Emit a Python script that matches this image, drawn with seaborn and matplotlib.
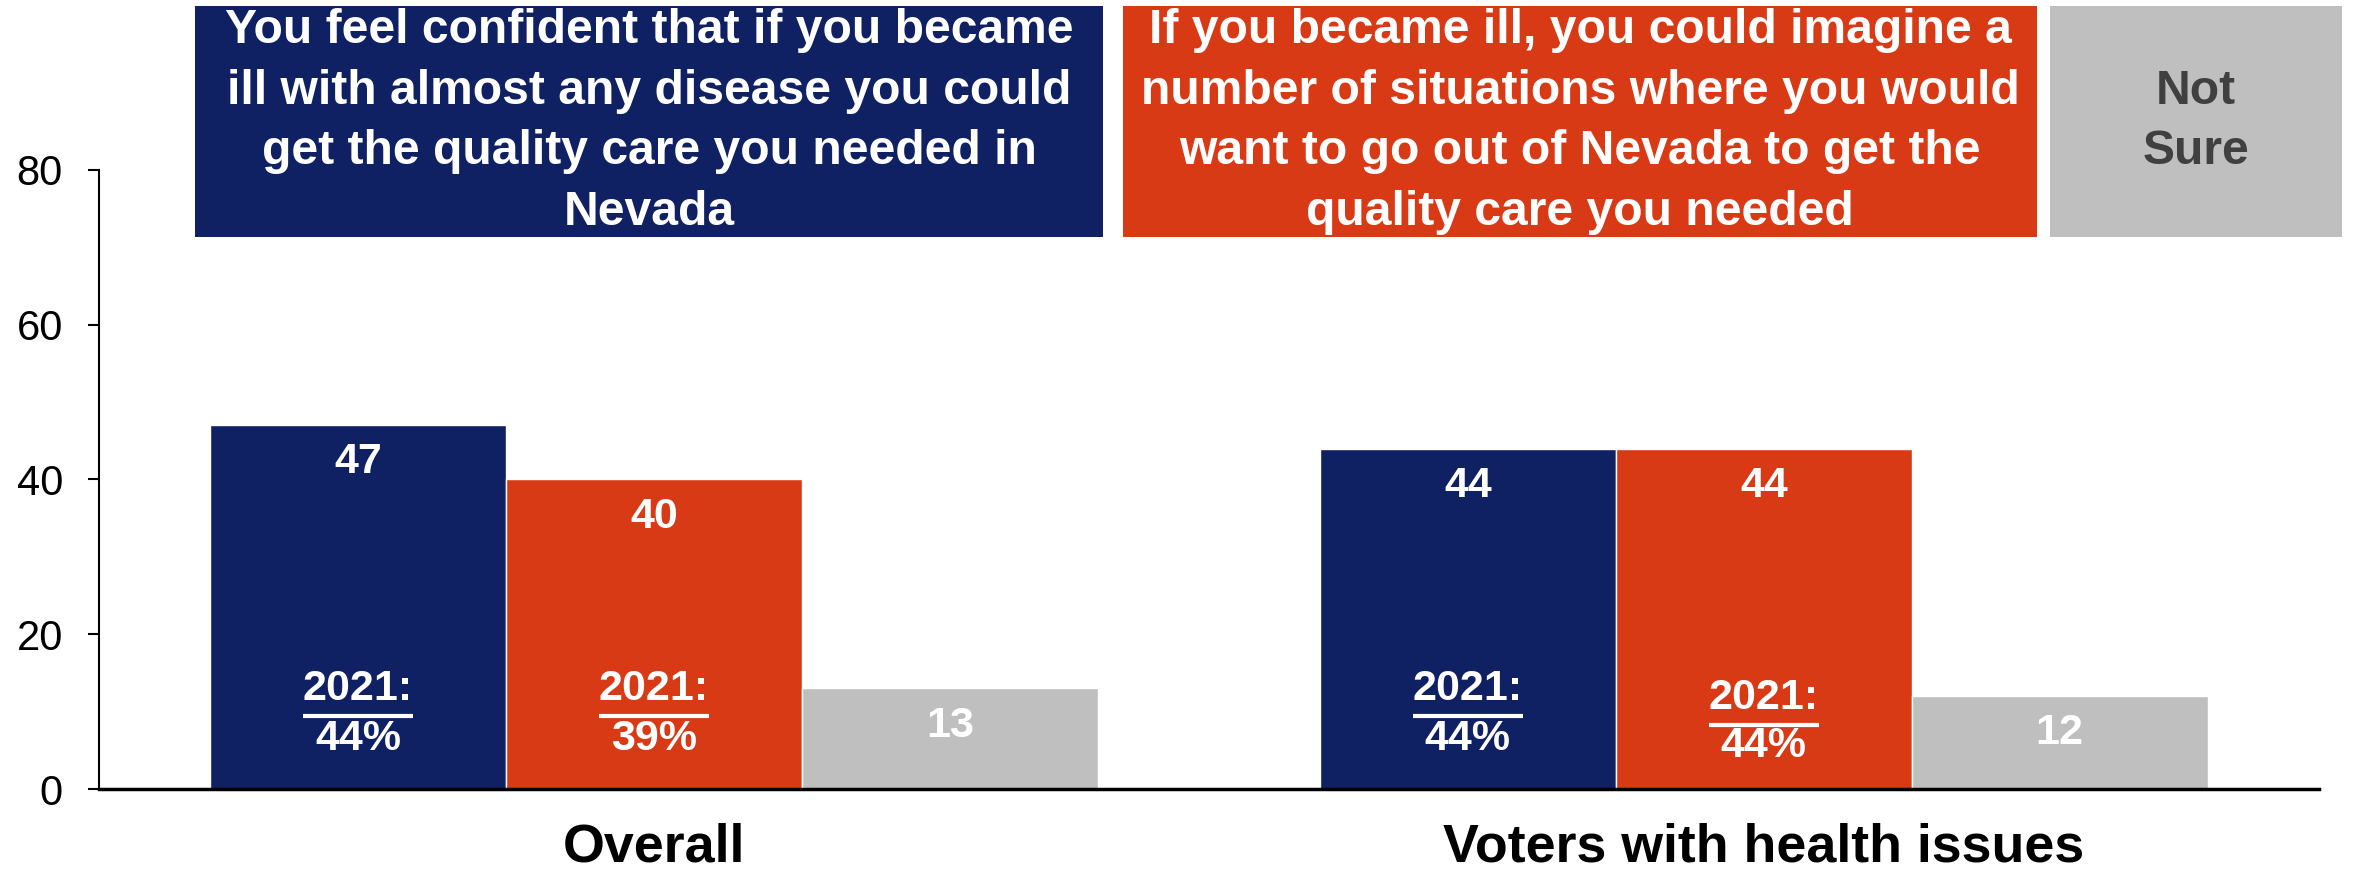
import matplotlib
matplotlib.use("Agg")
import matplotlib.pyplot as plt
import seaborn as sns
import pandas as pd
from matplotlib.patches import Rectangle

# ---------------- data ----------------
groups = ["Overall", "Voters with health issues"]
series = ["Confident in Nevada care", "Would go out of Nevada", "Not Sure"]
confident = [47, 44]
go_out = [40, 44]
not_sure = [13, 12]
prev_confident = ["44%", "44%"]
prev_go_out = ["39%", "44%"]
header_texts = [
    "You feel confident that if you became\nill with almost any disease you could\nget the quality care you needed in\nNevada",
    "If you became ill, you could imagine a\nnumber of situations where you would\nwant to go out of Nevada to get the\nquality care you needed",
    "Not\nSure",
]
colors = ["#0f2163", "#d83a16", "#bfbfbf"]
header_text_colors = ["white", "white", "#404040"]

rows = []
for vals, s in zip([confident, go_out, not_sure], series):
    for g, v in zip(groups, vals):
        rows.append({"group": g, "series": s, "value": v})
df = pd.DataFrame(rows)

sns.set_theme(style="white")
plt.rcParams["font.family"] = ["Liberation Sans", "DejaVu Sans"]

fig = plt.figure(figsize=(23.54, 8.73), dpi=100)
ax = fig.add_axes([0.0421, 0.0962, 0.9429, 0.7091])

sns.barplot(data=df, x="group", y="value", hue="series", hue_order=series,
            order=groups, palette=colors, saturation=1, width=0.8,
            legend=False, ax=ax, errorbar=None)

ax.set_ylim(0, 80)
ax.set_xlim(-0.5, 1.5)
ax.set_yticks([0, 20, 40, 60, 80])
ax.tick_params(axis="y", labelsize=30, length=8, width=1.5, color="black",
               labelcolor="black", left=True, pad=18)
ax.tick_params(axis="x", labelsize=38.7, length=0, pad=24, labelcolor="black")
for lbl in ax.get_xticklabels():
    lbl.set_fontweight("bold")
ax.set_xlabel("")
ax.set_ylabel("")
for s in ["top", "right"]:
    ax.spines[s].set_visible(False)
ax.spines["left"].set_linewidth(1.5)
ax.spines["left"].set_color("black")
ax.spines["bottom"].set_linewidth(2.5)
ax.spines["bottom"].set_color("black")

# value labels
for cont in ax.containers:
    for bar in cont:
        h = bar.get_height()
        cx = bar.get_x() + bar.get_width() / 2
        ax.text(cx, h - 4.8, f"{h:.0f}", ha="center", va="center",
                fontsize=31, fontweight="bold", color="white")

# 2021 comparison labels
prev_sets = [(0, prev_confident, [12.9, 12.9], [6.5, 6.5]),
             (1, prev_go_out, [12.9, 11.8], [6.5, 5.5])]
year_texts = []
for ci, prevs, ys_year, ys_val in prev_sets:
    for bar, p, yy, yv in zip(ax.containers[ci], prevs, ys_year, ys_val):
        cx = bar.get_x() + bar.get_width() / 2
        t = ax.text(cx, yy, "2021:", ha="center", va="center",
                    fontsize=31, fontweight="bold", color="white")
        year_texts.append((t, yy))
        ax.text(cx, yv, p, ha="center", va="center",
                fontsize=31, fontweight="bold", color="white")

fig.canvas.draw()
renderer = fig.canvas.get_renderer()
inv = ax.transData.inverted()
for t, yy in year_texts:
    bb = t.get_window_extent(renderer)
    (x0, y0) = inv.transform((bb.x0, bb.y0))
    (x1, _) = inv.transform((bb.x1, bb.y0))
    ax.plot([x0, x1], [y0 - 0.9, y0 - 0.9], color="white", lw=3,
            solid_capstyle="butt")

# header boxes (figure coordinates)
W, H = 2354, 873
boxes_px = [(195, 1103), (1123, 2037), (2050, 2342)]
y_top, y_bot = 6, 237
for (x0, x1), txt, col, tcol in zip(boxes_px, header_texts, colors, header_text_colors):
    rect = Rectangle((x0 / W, 1 - y_bot / H), (x1 - x0) / W, (y_bot - y_top) / H,
                     transform=fig.transFigure, facecolor=col, edgecolor="none",
                     zorder=5)
    fig.add_artist(rect)
    fig.text((x0 + x1) / 2 / W, 1 - (y_top + y_bot) / 2 / H, txt,
             ha="center", va="center", fontsize=34.6, fontweight="bold",
             color=tcol, linespacing=1.44, zorder=6)

fig.savefig("out.png", dpi=100)
